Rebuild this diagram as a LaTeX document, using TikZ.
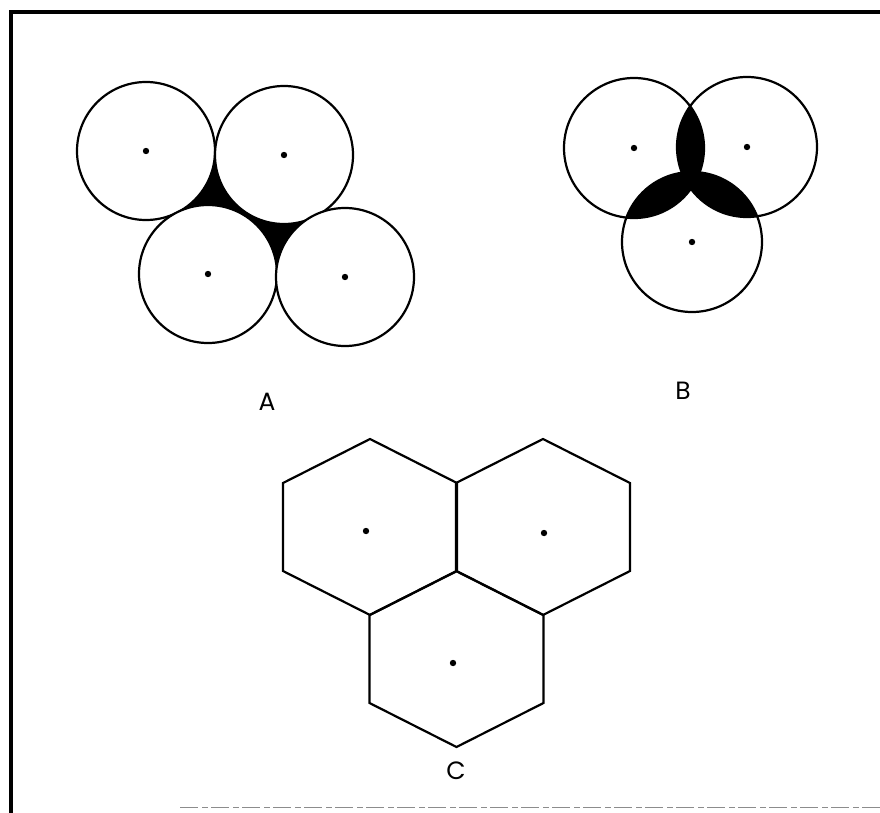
\documentclass[tikz,border=0pt]{standalone}
\usepackage{fontspec}
\setmainfont{Poppins}
\usetikzlibrary{calc}
\begin{document}
\begin{tikzpicture}[x=1pt,y=-1pt,
  ring/.style={draw=black,line width=2.2pt,fill=white},
  cell/.style={draw=black,line width=2.2pt,line join=miter},
  ctr/.style={fill=black},
  lbl/.style={font=\fontsize{25}{25}\selectfont,inner sep=0pt}]
\useasboundingbox (0,0) rectangle (880,813);
% frame
\draw[line width=3.4pt] (11,813) -- (11,12) -- (880,12);
\draw[line width=1pt,black!45,dash pattern=on 18pt off 4pt on 6pt off 3pt] (180,807) -- (880,807);
% ---- A : packed circles ----
\def\ra{69}
\coordinate (a1) at (146,151);
\coordinate (a2) at (284,155);
\coordinate (a3) at (208,274);
\coordinate (a4) at (345,277);
\fill[black] (a1) -- (a2) -- (a3) -- cycle;
\fill[black] (a2) -- (a3) -- (a4) -- cycle;
\foreach \c in {a1,a2,a3,a4}{\draw[ring] (\c) circle (\ra);}
\foreach \c in {a1,a2,a3,a4}{\fill[ctr] (\c) circle (3.2);}
\node[lbl] (labA) at (267,402) {A};
% ---- B : overlapping circles ----
\def\rb{70}
\coordinate (b1) at (634,148);
\coordinate (b2) at (747,147);
\coordinate (b3) at (692,242);
\begin{scope}\clip (b1) circle (\rb);\fill[black] (b2) circle (\rb);\end{scope}
\begin{scope}\clip (b1) circle (\rb);\fill[black] (b3) circle (\rb);\end{scope}
\begin{scope}\clip (b2) circle (\rb);\fill[black] (b3) circle (\rb);\end{scope}
\foreach \c in {b1,b2,b3}{\draw[line width=2.2pt] (\c) circle (\rb);}
\fill[ctr] (b1) circle (3.2);
\fill[ctr] (b2) circle (3.2);
\fill[ctr] (b3) circle (3.2);
\node[lbl] (labB) at (683,391) {B};
% ---- C : hexagons ----
\coordinate (h1) at (370,527);
\coordinate (h2) at (543,527);
\coordinate (h3) at (456.5,659);
\foreach \c in {h1,h2,h3}{
  \draw[cell] ($(\c)+(0,-88)$) -- ++(87,44) -- ++(0,88) -- ++(-87,44) -- ++(-87,-44) -- ++(0,-88) -- cycle;}
\fill[ctr] (366,531) circle (3.2);
\fill[ctr] (544,533) circle (3.2);
\fill[ctr] (453,663) circle (3.2);
\node[lbl] (labC) at (456,771) {C};
\end{tikzpicture}
\end{document}
